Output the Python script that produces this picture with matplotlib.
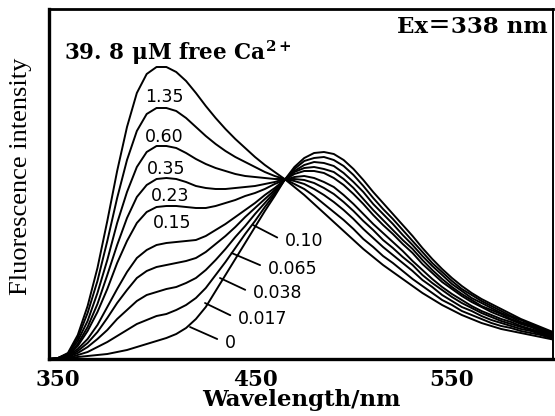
import matplotlib
matplotlib.use("Agg")
import matplotlib.pyplot as plt

plt.rcParams["mathtext.fontset"] = "dejavuserif"

# emission wavelength grid (nm), 5 nm steps
wavelength = [345, 350, 355, 360, 365, 370, 375, 380, 385, 390, 395, 400, 405, 410,
              415, 420, 425, 430, 435, 440, 445, 450, 455, 460, 465, 470, 475, 480,
              485, 490, 495, 500, 505, 510, 515, 520, 525, 530, 535, 540, 545, 550,
              555, 560, 565, 570, 575, 580, 585, 590, 595, 600, 605]

# free Ca2+ (uM), one curve each
ca_levels = ["1.35", "0.60", "0.35", "0.23", "0.15", "0.10", "0.065", "0.038", "0.017", "0"]

# fluorescence intensity (arbitrary units)
I_1_35 = [0, 1, 6, 24, 53, 91, 138, 188, 232, 266, 285, 292, 292, 287,
          278, 266, 253, 241, 230, 220, 211, 202, 194, 187, 180, 172, 164, 155,
          146, 137, 128, 119, 110, 102, 94, 87, 80, 73, 66, 60, 54, 49,
          44, 40, 36, 33, 30, 28, 26, 24, 22, 20, 18]
I_0_60 = [0, 1, 5, 21, 46, 78, 118, 161, 199, 228, 245, 251, 251, 248,
          241, 232, 223, 215, 208, 202, 197, 192, 187, 183, 180, 175, 170, 163,
          155, 147, 139, 130, 120, 112, 103, 96, 88, 80, 73, 66, 59, 54,
          48, 44, 40, 36, 33, 31, 28, 26, 24, 21, 19]
I_0_35 = [0, 1, 5, 18, 38, 66, 99, 136, 167, 192, 207, 213, 213, 211,
          206, 200, 195, 191, 188, 185, 183, 182, 181, 180, 180, 178, 175, 170,
          164, 157, 149, 140, 130, 121, 112, 104, 96, 88, 79, 72, 64, 58,
          52, 48, 43, 39, 36, 33, 30, 28, 25, 22, 20]
I_0_23 = [0, 1, 4, 15, 32, 55, 84, 114, 141, 162, 174, 180, 181, 180,
          177, 173, 171, 170, 170, 171, 172, 173, 175, 177, 180, 180, 179, 176,
          171, 165, 157, 148, 138, 129, 119, 111, 102, 94, 84, 76, 69, 62,
          56, 51, 46, 42, 38, 35, 32, 29, 26, 23, 21]
I_0_15 = [0, 0, 3, 13, 28, 47, 70, 96, 118, 136, 147, 152, 153, 153,
          152, 151, 151, 153, 156, 159, 163, 166, 170, 175, 179, 182, 183, 181,
          177, 172, 164, 155, 145, 135, 126, 117, 108, 98, 89, 80, 72, 65,
          59, 53, 48, 44, 40, 37, 33, 30, 27, 24, 22]
I_0_10 = [0, 0, 3, 10, 20, 34, 52, 70, 87, 101, 109, 114, 116, 117,
          118, 119, 123, 129, 135, 142, 149, 156, 164, 171, 179, 185, 188, 188,
          186, 181, 174, 165, 155, 144, 134, 125, 115, 106, 95, 86, 77, 70,
          63, 57, 52, 47, 43, 39, 35, 32, 28, 25, 23]
I_0_065 = [0, 0, 2, 8, 16, 27, 41, 56, 69, 81, 88, 92, 94, 96,
           98, 101, 107, 115, 123, 132, 142, 151, 160, 169, 179, 187, 191, 192,
           190, 187, 180, 171, 160, 149, 139, 129, 119, 110, 99, 89, 80, 72,
           65, 59, 53, 49, 45, 40, 36, 33, 29, 26, 23]
I_0_038 = [0, 0, 2, 6, 12, 20, 29, 40, 49, 58, 64, 67, 70, 72,
           76, 81, 89, 99, 110, 122, 133, 145, 156, 167, 179, 188, 194, 197,
           196, 193, 186, 177, 167, 155, 145, 135, 124, 114, 103, 93, 84, 75,
           68, 61, 56, 51, 46, 42, 37, 34, 30, 27, 24]
I_0_017 = [0, 0, 1, 4, 7, 12, 17, 23, 29, 35, 39, 43, 45, 49,
           54, 61, 71, 84, 97, 111, 125, 138, 152, 165, 179, 190, 198, 201,
           202, 199, 193, 184, 173, 161, 150, 140, 129, 118, 107, 96, 87, 78,
           70, 64, 58, 53, 48, 43, 39, 35, 31, 27, 24]
I_0 = [0, 0, 1, 2, 3, 4, 5, 7, 9, 12, 15, 18, 21, 25,
       31, 40, 52, 68, 84, 100, 116, 132, 148, 163, 179, 192, 201, 206,
       207, 205, 199, 190, 179, 167, 156, 145, 134, 123, 111, 100, 90, 81,
       73, 66, 60, 55, 50, 45, 40, 36, 32, 28, 25]

curves = [I_1_35, I_0_60, I_0_35, I_0_23, I_0_15, I_0_10, I_0_065, I_0_038, I_0_017, I_0]

# label positions: first five sit under their peaks, the rest use leader lines
plain_labels = ["1.35", "0.60", "0.35", "0.23", "0.15"]
plain_x = [403.8, 403.8, 404.8, 406.9, 407.9]
plain_y = [262.5, 222, 190, 163, 135.5]

leader_labels = ["0.10", "0.065", "0.038", "0.017", "0"]
leader_tip_x = [449, 438.1, 432.2, 424.6, 417]
leader_tip_y = [134, 106, 81, 56, 32]
leader_text_x = [465.2, 456.6, 449, 441.4, 434.8]
leader_text_y = [117.5, 90.5, 65.5, 40, 16.5]

fig = plt.figure(figsize=(5.55, 4.16), dpi=100)
ax = fig.add_axes([49 / 555, 57 / 416, 504 / 555, 350.5 / 416])

for vals in curves:
    ax.plot(wavelength, vals, color="black", lw=1.4, solid_joinstyle="round")

for t, x, y in zip(plain_labels, plain_x, plain_y):
    ax.text(x, y, t, fontsize=12.5, family="DejaVu Sans", ha="center", va="center")

for t, tx, ty, lx, ly in zip(leader_labels, leader_tip_x, leader_tip_y, leader_text_x, leader_text_y):
    ax.annotate(t, xy=(tx, ty), xytext=(lx, ly), fontsize=12.5, family="DejaVu Sans",
                ha="left", va="center",
                arrowprops=dict(arrowstyle="-", lw=1.3, color="black",
                                shrinkA=4, shrinkB=0, relpos=(0, 0.5)))

ax.text(353, 306, "39. 8 μM free Ca$^{\\mathbf{2+}}$", fontsize=15.5, family="DejaVu Serif",
        weight="bold", ha="left", va="center")
ax.text(598.5, 332, "Ex＝338 nm", fontsize=16.5, family=["DejaVu Serif", "Noto Sans CJK JP"],
        weight="bold", ha="right", va="center")

ax.set_xlim(345.4, 601.3)
ax.set_ylim(0, 350.5)
ax.set_xticks([350, 450, 550])
ax.set_yticks([])
ax.tick_params(axis="x", length=0, pad=7)
for lbl in ax.get_xticklabels():
    lbl.set_fontfamily("DejaVu Serif")
    lbl.set_fontweight("bold")
    lbl.set_fontsize(15.5)

ax.set_xlabel("Wavelength/nm", fontsize=16.5, family="DejaVu Serif", weight="bold")
ax.xaxis.set_label_coords(0.5, -0.085)
ax.set_ylabel("Fluorescence intensity", fontsize=19, family="Liberation Serif")
ax.yaxis.set_label_coords(-0.034, 0.52)

ax.spines["left"].set_linewidth(2.4)
ax.spines["bottom"].set_linewidth(2.4)
ax.spines["top"].set_linewidth(2.0)
ax.spines["right"].set_linewidth(1.4)

fig.savefig("out.png", dpi=100)
